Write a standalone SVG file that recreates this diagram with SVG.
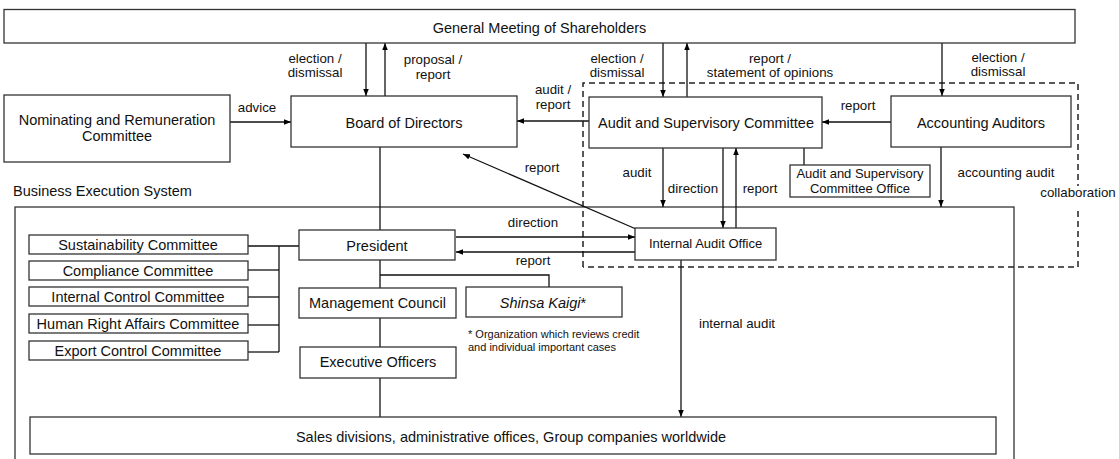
<svg xmlns="http://www.w3.org/2000/svg" width="1119" height="459" viewBox="0 0 1119 459">
<defs>
<marker id="ah" markerWidth="8" markerHeight="6" refX="7" refY="2.75" orient="auto" markerUnits="userSpaceOnUse">
<path d="M0,0 L7,2.75 L0,5.5 z" fill="#000"/>
</marker>
<style>
text{font-family:"Liberation Sans",Arial,sans-serif;fill:#111;}
.m{font-size:14.5px;text-anchor:middle;}
.l{font-size:13.3px;text-anchor:middle;}
.s{font-size:13px;text-anchor:middle;}
.f{font-size:11px;}
.box{fill:#fff;stroke:#333;stroke-width:1.3;}
.ln{fill:none;stroke:#111;stroke-width:1.3;}
.ar{fill:none;stroke:#111;stroke-width:1.3;marker-end:url(#ah);}
.dash{fill:none;stroke:#222;stroke-width:1.5;stroke-dasharray:6,4;}
</style>
</defs>
<rect width="1119" height="459" fill="#fff"/>

<g id="business-execution-system">
<rect class="box" x="15" y="207" width="999" height="260"/>
<text x="13" y="196" style="font-size:14.5px">Business Execution System</text>
</g>

<g id="collaboration-area">
<path class="dash" d="M583,267 L583,83 L1078,83 L1078,186 M1078,211 L1078,267 L583,267"/>
<text class="l" x="1078" y="197">collaboration</text>
</g>

<g id="connectors">
<!-- GM to Board -->
<line class="ar" x1="366" y1="43" x2="366" y2="96"/>
<line class="ar" x1="385" y1="96" x2="385" y2="43"/>
<!-- GM to ASC -->
<line class="ar" x1="663" y1="43" x2="663" y2="97"/>
<line class="ar" x1="687" y1="97" x2="687" y2="43"/>
<!-- GM to AA -->
<line class="ar" x1="942" y1="43" x2="942" y2="96"/>
<!-- Nominating advice -->
<line class="ar" x1="230" y1="122" x2="291" y2="122"/>
<!-- ASC to Board -->
<line class="ar" x1="589" y1="121" x2="517" y2="121"/>
<!-- AA to ASC -->
<line class="ar" x1="891" y1="122" x2="822" y2="122"/>
<!-- Board to President -->
<line class="ln" x1="380" y1="147" x2="380" y2="230"/>
<!-- ASC audit -->
<line class="ar" x1="663" y1="148" x2="663" y2="207"/>
<!-- ASC direction to IAO -->
<line class="ar" x1="723" y1="148" x2="723" y2="228"/>
<!-- IAO report to ASC -->
<line class="ar" x1="736" y1="228" x2="736" y2="148"/>
<!-- ASC to Office -->
<line class="ln" x1="804" y1="148" x2="804" y2="165"/>
<!-- accounting audit -->
<line class="ar" x1="941" y1="147" x2="941" y2="207"/>
<!-- IAO report to Board (diagonal) -->
<line class="ar" x1="636" y1="229" x2="463" y2="154"/>
<!-- President direction to IAO -->
<line class="ar" x1="456" y1="237" x2="635" y2="237"/>
<!-- IAO report to President -->
<line class="ar" x1="635" y1="252" x2="456" y2="252"/>
<!-- internal audit -->
<line class="ar" x1="681" y1="260" x2="681" y2="417"/>
<!-- committees bus -->
<line class="ln" x1="248" y1="246" x2="299" y2="246"/>
<line class="ln" x1="248" y1="270" x2="279" y2="270"/>
<line class="ln" x1="248" y1="297" x2="279" y2="297"/>
<line class="ln" x1="248" y1="325" x2="279" y2="325"/>
<line class="ln" x1="248" y1="352" x2="279" y2="352"/>
<line class="ln" x1="279" y1="246" x2="279" y2="352"/>
<!-- President down chain -->
<line class="ln" x1="380" y1="260" x2="380" y2="288"/>
<path class="ln" d="M380,275 L549,275 L549,287"/>
<line class="ln" x1="380" y1="318" x2="380" y2="347"/>
<line class="ln" x1="380" y1="378" x2="380" y2="417"/>
</g>

<g id="labels">
<text class="l" x="257" y="112">advice</text>
<text class="l" x="315" y="63">election /</text>
<text class="l" x="315" y="77">dismissal</text>
<text class="l" x="433" y="64">proposal /</text>
<text class="l" x="433" y="79">report</text>
<text class="l" x="553" y="94">audit /</text>
<text class="l" x="553" y="109">report</text>
<text class="l" x="617" y="63">election /</text>
<text class="l" x="617" y="77">dismissal</text>
<text class="l" x="770" y="63">report /</text>
<text class="l" x="770" y="77">statement of opinions</text>
<text class="l" x="998" y="62">election /</text>
<text class="l" x="998" y="76">dismissal</text>
<text class="l" x="858" y="110">report</text>
<text class="l" x="542" y="172">report</text>
<text class="l" x="637" y="177">audit</text>
<text class="l" x="693" y="193">direction</text>
<text class="l" x="760" y="193">report</text>
<text class="l" x="1006" y="177">accounting audit</text>
<text class="l" x="533" y="227">direction</text>
<text class="l" x="533" y="265">report</text>
<text class="l" x="737" y="328">internal audit</text>
</g>

<g id="general-meeting">
<rect class="box" x="4" y="9.5" width="1071" height="33.5"/>
<text class="m" x="539.5" y="33">General Meeting of Shareholders</text>
</g>

<g id="nominating-committee">
<rect class="box" x="4" y="95" width="226" height="67"/>
<text class="m" x="117" y="125">Nominating and Remuneration</text>
<text class="m" x="117" y="141">Committee</text>
</g>

<g id="board">
<rect class="box" x="291" y="96" width="226" height="51"/>
<text class="m" x="404" y="128">Board of Directors</text>
</g>

<g id="audit-supervisory-committee">
<rect class="box" x="589" y="97" width="233" height="51"/>
<text class="m" x="706" y="128">Audit and Supervisory Committee</text>
</g>

<g id="accounting-auditors">
<rect class="box" x="891" y="96" width="180" height="51"/>
<text class="m" x="981" y="128">Accounting Auditors</text>
</g>

<g id="asc-office">
<rect class="box" x="790" y="165" width="140" height="32"/>
<text class="s" x="860" y="178">Audit and Supervisory</text>
<text class="s" x="860" y="193">Committee Office</text>
</g>

<g id="internal-audit-office">
<rect class="box" x="635" y="228" width="141" height="32"/>
<text class="s" x="705.5" y="248">Internal Audit Office</text>
</g>

<g id="sustainability-committee">
<rect class="box" x="29" y="235" width="219" height="19"/>
<text class="m" x="138" y="250">Sustainability Committee</text>
</g>
<g id="compliance-committee">
<rect class="box" x="29" y="261" width="219" height="19"/>
<text class="m" x="138" y="276">Compliance Committee</text>
</g>
<g id="internal-control-committee">
<rect class="box" x="29" y="287" width="219" height="19"/>
<text class="m" x="138" y="302">Internal Control Committee</text>
</g>
<g id="human-right-committee">
<rect class="box" x="29" y="314" width="219" height="19"/>
<text class="m" x="138" y="329">Human Right Affairs Committee</text>
</g>
<g id="export-control-committee">
<rect class="box" x="29" y="341" width="219" height="19"/>
<text class="m" x="138" y="356">Export Control Committee</text>
</g>

<g id="president">
<rect class="box" x="299" y="230" width="156" height="30"/>
<text class="m" x="377" y="251">President</text>
</g>

<g id="management-council">
<rect class="box" x="299" y="288" width="157" height="30"/>
<text class="m" x="377.5" y="308">Management Council</text>
</g>

<g id="shinsa-kaigi">
<rect class="box" x="466" y="287" width="156" height="30"/>
<text class="m" x="543" y="308"><tspan font-style="italic">Shinsa Kaigi</tspan>*</text>
<text class="f" x="468" y="338">* Organization which reviews credit</text>
<text class="f" x="468" y="351">and individual important cases</text>
</g>

<g id="executive-officers">
<rect class="box" x="300" y="347" width="156" height="31"/>
<text class="m" x="378" y="367">Executive Officers</text>
</g>

<g id="sales-divisions">
<rect class="box" x="30" y="417" width="966" height="37"/>
<text class="m" x="511" y="442">Sales divisions, administrative offices, Group companies worldwide</text>
</g>
</svg>
